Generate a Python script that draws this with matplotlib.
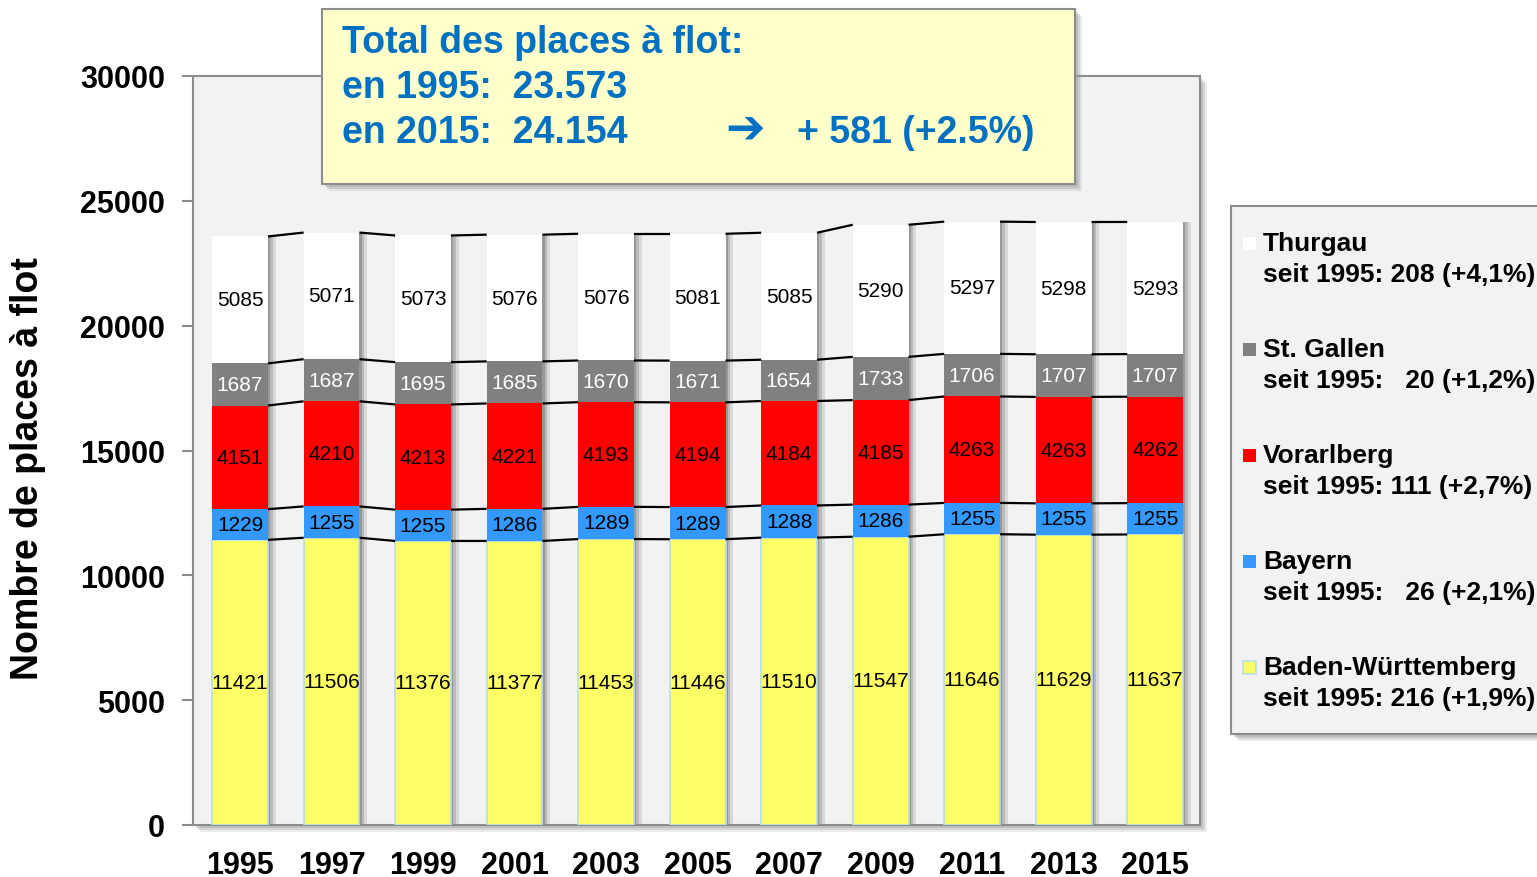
import matplotlib
matplotlib.use('Agg')
import matplotlib.pyplot as plt
from matplotlib.patches import Rectangle
import numpy as np

plt.rcParams['font.family'] = ['Liberation Sans', 'DejaVu Sans']

years = ['1995', '1997', '1999', '2001', '2003', '2005', '2007', '2009', '2011', '2013', '2015']
baden_wuerttemberg = [11421, 11506, 11376, 11377, 11453, 11446, 11510, 11547, 11646, 11629, 11637]
bayern = [1229, 1255, 1255, 1286, 1289, 1289, 1288, 1286, 1255, 1255, 1255]
vorarlberg = [4151, 4210, 4213, 4221, 4193, 4194, 4184, 4185, 4263, 4263, 4262]
st_gallen = [1687, 1687, 1695, 1685, 1670, 1671, 1654, 1733, 1706, 1707, 1707]
thurgau = [5085, 5071, 5073, 5076, 5076, 5081, 5085, 5290, 5297, 5298, 5293]

series_names = ['Baden-Württemberg', 'Bayern', 'Vorarlberg', 'St. Gallen', 'Thurgau']
legend_sub = ['seit 1995: 216 (+1,9%)', 'seit 1995:   26 (+2,1%)', 'seit 1995: 111 (+2,7%)',
              'seit 1995:   20 (+1,2%)', 'seit 1995: 208 (+4,1%)']
y_ticks = [0, 5000, 10000, 15000, 20000, 25000, 30000]
box_lines = ['Total des places à flot:', 'en 1995:  23.573', 'en 2015:  24.154']
box_change = '+ 581 (+2.5%)'

colors = ['#FFFF66', '#3399FF', '#FF0000', '#808080', '#FFFFFF']
label_colors = ['black', 'black', 'black', 'white', 'black']
edge_colors = ['#B7DEE8', 'none', 'none', 'none', 'none']

W, H = 1537, 878
fig = plt.figure(figsize=(W / 100, H / 100), dpi=100)
fig.patch.set_facecolor('white')


def fx(px):
    return px / W


def fy(py):
    return 1 - py / H


# plot-area shadow (soft)
for off, a in [(3, 0.35), (5, 0.3), (7, 0.2)]:
    fig.add_artist(Rectangle((fx(193 + off), fy(826 + off)), fx(1200) - fx(193), fy(77) - fy(826),
                             transform=fig.transFigure, fc='#A0A0A0', ec='none', alpha=a, zorder=-1))

ax = fig.add_axes([fx(193), fy(826), fx(1200) - fx(193), fy(77) - fy(826)])
ax.set_facecolor('#F2F2F2')

data = [baden_wuerttemberg, bayern, vorarlberg, st_gallen, thurgau]
x = np.arange(len(years))
width = 0.61
totals = np.sum(np.array(data), axis=0)

# bar shadows (soft gradient)
for dx, a in [(0.025, 0.18), (0.05, 0.14), (0.085, 0.10)]:
    ax.bar(x + dx, totals, width, color='black', alpha=a, linewidth=0, zorder=1)

bottom = np.zeros(len(years))
levels = []
for vals, c, ec, lc in zip(data, colors, edge_colors, label_colors):
    vals = np.array(vals)
    ax.bar(x, vals, width, bottom=bottom, color=c, edgecolor=ec,
           linewidth=1.2 if ec != 'none' else 0, zorder=3)
    for i, v in enumerate(vals):
        ax.text(x[i], bottom[i] + v / 2, str(v), ha='center', va='center',
                fontsize=15, color=lc, zorder=6)
    bottom = bottom + vals
    levels.append(bottom.copy())

# connector lines
for lev in levels:
    for i in range(len(years) - 1):
        ax.plot([x[i] + width / 2, x[i + 1] - width / 2], [lev[i], lev[i + 1]],
                color='black', lw=1.6, zorder=4, solid_capstyle='butt')

ax.set_xlim(-0.514, 10.49)
ax.set_ylim(0, 30000)
ax.set_yticks(y_ticks)
ax.set_yticklabels([str(t) for t in y_ticks], fontsize=22, fontweight='bold')
ax.set_xticks(x)
ax.set_xticklabels(years, fontsize=22, fontweight='bold')
ax.tick_params(axis='y', length=8, width=1.5, color='#8C8C8C', pad=12)
ax.tick_params(axis='x', length=0, pad=18)
for s in ax.spines.values():
    s.set_color('#8C8C8C')
    s.set_linewidth(1.5)

fig.text(fx(28), fy(469), 'Nombre de places à flot', rotation=90, fontsize=27,
         fontweight='bold', ha='center', va='center')

# annotation box
for off, a in [(3, 0.35), (5, 0.3), (7, 0.2)]:
    fig.add_artist(Rectangle((fx(322 + off), fy(185 + off)), fx(1075) - fx(322), fy(10) - fy(185),
                             transform=fig.transFigure, fc='#9A9A9A', ec='none', alpha=a, zorder=9))
fig.add_artist(Rectangle((fx(322), fy(185)), fx(1075) - fx(322), fy(10) - fy(185),
                         transform=fig.transFigure, fc='#FFFFCC', ec='#8C8C8C', lw=1.5, zorder=10))
for k, line in enumerate(box_lines):
    fig.text(fx(342), fy(43 + 45 * k), line, color='#0070C0', fontsize=27, fontweight='bold',
             ha='left', va='center', zorder=11)
fig.text(fx(745), fy(131), '➔', color='#0070C0', fontsize=34, fontweight='bold',
         family='DejaVu Sans', ha='center', va='center', zorder=11)
fig.text(fx(797), fy(133), box_change, color='#0070C0', fontsize=27, fontweight='bold',
         ha='left', va='center', zorder=11)

# legend box
for off, a in [(3, 0.35), (5, 0.3), (7, 0.2)]:
    fig.add_artist(Rectangle((fx(1231 + off), fy(735 + off)), fx(1560) - fx(1231), fy(207) - fy(735),
                             transform=fig.transFigure, fc='#9A9A9A', ec='none', alpha=a, zorder=9))
fig.add_artist(Rectangle((fx(1231), fy(735)), fx(1560) - fx(1231), fy(207) - fy(735),
                         transform=fig.transFigure, fc='#F2F2F2', ec='#8C8C8C', lw=1.5, zorder=10))
for k, idx in enumerate([4, 3, 2, 1, 0]):
    y1 = 244 + 106 * k
    y2 = 275 + 106 * k
    fig.add_artist(Rectangle((fx(1243), fy(y1 + 6.5)), fx(13), 13 / H, transform=fig.transFigure,
                             fc=colors[idx], ec=edge_colors[idx] if edge_colors[idx] != 'none' else 'none',
                             lw=1.2, zorder=11))
    fig.text(fx(1263), fy(y1), series_names[idx], fontsize=19, fontweight='bold',
             ha='left', va='center', zorder=11)
    fig.text(fx(1263), fy(y2), legend_sub[idx], fontsize=19, fontweight='bold',
             ha='left', va='center', zorder=11)

fig.savefig('out.png', dpi=100)
